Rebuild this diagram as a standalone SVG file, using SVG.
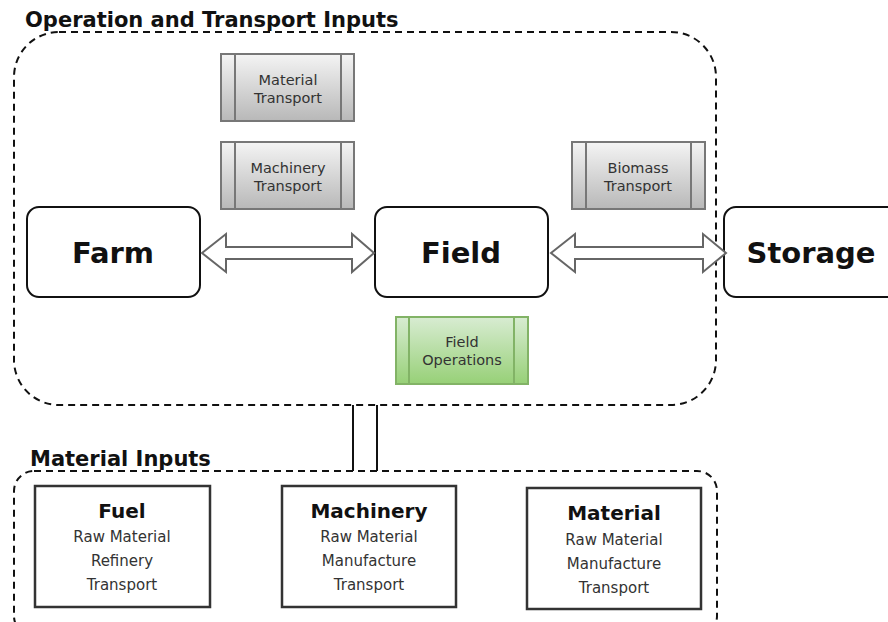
<svg xmlns="http://www.w3.org/2000/svg" width="888" height="622" viewBox="0 0 888 622">
<defs>
<linearGradient id="gGray" x1="0" y1="0" x2="0" y2="1">
<stop offset="0" stop-color="#f4f4f4"/>
<stop offset="1" stop-color="#b8b8b8"/>
</linearGradient>
<linearGradient id="gGreen" x1="0" y1="0" x2="0" y2="1">
<stop offset="0" stop-color="#d8ecd2"/>
<stop offset="1" stop-color="#97d077"/>
</linearGradient>
</defs>
<style>
.grp{fill:none;stroke:#111;stroke-width:2;stroke-dasharray:7 5}
.title{font-family:"DejaVu Sans",Verdana,sans-serif;font-weight:bold;font-size:21px;fill:#111}
.big{font-family:"DejaVu Sans",Verdana,sans-serif;font-weight:bold;font-size:29px;fill:#111;text-anchor:middle}
.node{fill:#fff;stroke:#111;stroke-width:2}
.proc{fill:url(#gGray);stroke:#777;stroke-width:2}
.procg{fill:url(#gGreen);stroke:#82b366;stroke-width:2}
.pl{stroke:#777;stroke-width:2;fill:none}
.plg{stroke:#82b366;stroke-width:2;fill:none}
.sm{font-family:"DejaVu Sans",Verdana,sans-serif;font-size:14.5px;fill:#333;text-anchor:middle}
.sb{font-family:"DejaVu Sans",Verdana,sans-serif;font-size:15px;fill:#333;text-anchor:middle}
.box{fill:#fff;stroke:#333;stroke-width:2.5}
.bh{font-family:"DejaVu Sans",Verdana,sans-serif;font-weight:bold;font-size:20px;fill:#111;text-anchor:middle}
.arrow{fill:#fff;stroke:#666;stroke-width:2;stroke-linejoin:miter}
.link{stroke:#111;stroke-width:2;fill:none}
</style>
<rect width="888" height="622" fill="#fff"/>

<g id="group-operation">
<rect class="grp" x="14" y="32" width="702" height="373" rx="45" ry="45"/>
<text class="title" x="25" y="27">Operation and Transport Inputs</text>
</g>

<g id="group-material">
<rect class="grp" x="14" y="471" width="703" height="165" rx="20" ry="20"/>
<text class="title" x="30" y="466" font-size="20.6">Material Inputs</text>
</g>

<g id="material-transport">
<rect class="proc" x="221" y="54" width="133" height="67"/>
<line class="pl" x1="235" y1="54" x2="235" y2="121"/>
<line class="pl" x1="341" y1="54" x2="341" y2="121"/>
<text class="sm" x="288" y="85">Material</text>
<text class="sm" x="288" y="103">Transport</text>
</g>

<g id="machinery-transport">
<rect class="proc" x="221" y="142" width="133" height="67"/>
<line class="pl" x1="235" y1="142" x2="235" y2="209"/>
<line class="pl" x1="341" y1="142" x2="341" y2="209"/>
<text class="sm" x="288" y="173">Machinery</text>
<text class="sm" x="288" y="191">Transport</text>
</g>

<g id="biomass-transport">
<rect class="proc" x="572" y="142" width="133" height="67"/>
<line class="pl" x1="586" y1="142" x2="586" y2="209"/>
<line class="pl" x1="691" y1="142" x2="691" y2="209"/>
<text class="sm" x="638" y="173">Biomass</text>
<text class="sm" x="638" y="191">Transport</text>
</g>

<g id="farm">
<rect class="node" x="27" y="207" width="173" height="90" rx="12" ry="12"/>
<text class="big" x="113" y="263">Farm</text>
</g>

<g id="field">
<rect class="node" x="375" y="207" width="173" height="90" rx="12" ry="12"/>
<text class="big" x="461" y="263">Field</text>
</g>

<g id="storage">
<rect class="node" x="724" y="207" width="176" height="90" rx="12" ry="12"/>
<text class="big" x="811" y="263">Storage</text>
</g>

<g id="field-operations">
<rect class="procg" x="396" y="317" width="132" height="67"/>
<line class="plg" x1="409" y1="317" x2="409" y2="384"/>
<line class="plg" x1="514" y1="317" x2="514" y2="384"/>
<text class="sm" x="462" y="347">Field</text>
<text class="sm" x="462" y="365">Operations</text>
</g>

<g id="fuel">
<rect class="box" x="35" y="486" width="175" height="121"/>
<text class="bh" x="122" y="518">Fuel</text>
<text class="sb" x="122" y="542">Raw Material</text>
<text class="sb" x="122" y="566">Refinery</text>
<text class="sb" x="122" y="590">Transport</text>
</g>

<g id="machinery">
<rect class="box" x="282" y="486" width="174" height="121"/>
<text class="bh" x="369" y="518">Machinery</text>
<text class="sb" x="369" y="542">Raw Material</text>
<text class="sb" x="369" y="566">Manufacture</text>
<text class="sb" x="369" y="590">Transport</text>
</g>

<g id="material">
<rect class="box" x="527" y="488" width="174" height="121"/>
<text class="bh" x="614" y="520">Material</text>
<text class="sb" x="614" y="545">Raw Material</text>
<text class="sb" x="614" y="569">Manufacture</text>
<text class="sb" x="614" y="593">Transport</text>
</g>

<g id="connectors">
<polygon class="arrow" points="202,253 226,234 226,247 352,247 352,234 374,253 352,272 352,259 226,259 226,272"/>
<polygon class="arrow" points="551,253 575,234 575,247 703,247 703,234 726,253 703,272 703,259 575,259 575,272"/>
<line class="link" x1="353" y1="405" x2="353" y2="471"/>
<line class="link" x1="377" y1="405" x2="377" y2="471"/>
</g>
</svg>
